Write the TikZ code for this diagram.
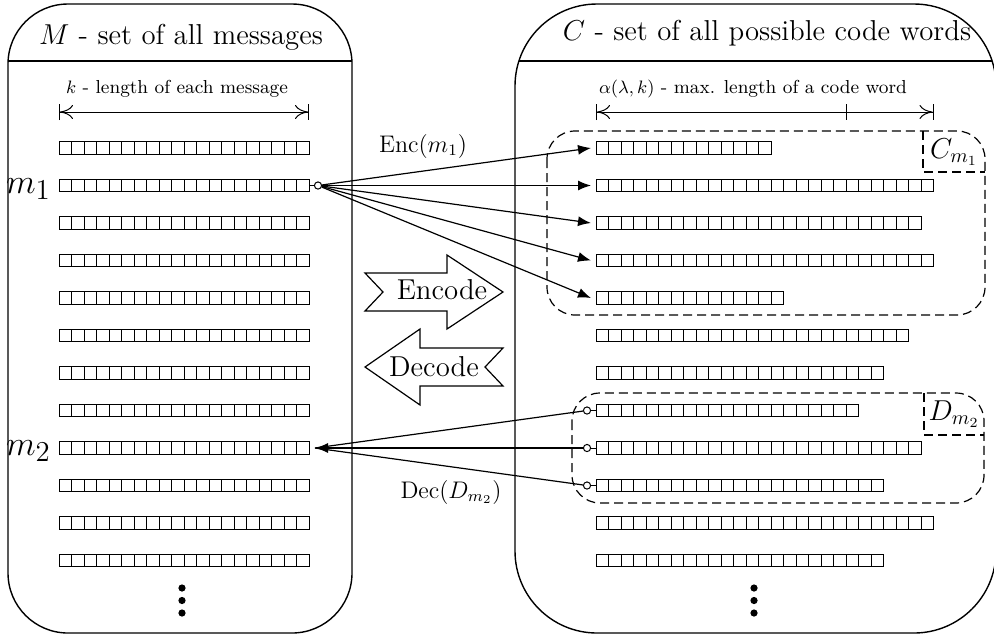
\documentclass[tikz,border=0pt]{standalone}
\usetikzlibrary{arrows.meta}

\begin{document}
\begin{tikzpicture}[x=0.5pt,y=-0.5pt,line width=0.6pt,
	cell/.style={line width=0.5pt},
	setbox/.style={line width=0.7pt},
	group/.style={dash pattern=on 4.5pt off 2.5pt, line width=0.6pt, rounded corners=14pt},
	port/.style={circle, draw, fill=white, inner sep=0pt, minimum size=3.6pt, line width=0.5pt},
	enc/.style={-{Latex[length=6.5pt,width=5pt]}},
	dim/.style={{Bar[width=8pt,sep=0pt]Computer Modern Rightarrow[length=6.5pt,width=7pt,sep=0pt]}-{Computer Modern Rightarrow[length=6.5pt,width=7pt,sep=0pt]Bar[width=8pt,sep=0pt]}, line width=0.5pt},
	bigarrow/.style={draw, fill=white, line width=0.6pt}]
	
	\useasboundingbox (0,0) rectangle (994,634);
	
	% Sets
	\draw[setbox, rounded corners=30pt] (8,4) rectangle (352,633);
	\draw[setbox, rounded corners=41pt] (515,4) rectangle (996,633);
	\draw[setbox] (8,61) -- (352,61);
	\draw[setbox] (519,61) -- (992,61);
	
	% Titles
	\node[font=\Large, anchor=base] (Mtitle) at (181,44) {$M$ - set of all messages};
	\node[font=\Large, anchor=base] (Ctitle) at (767,40) {$C$ - set of all possible code words};
	
	% Lengths
	\draw[dim] (59,112) -- (309,112);
	\draw[dim] (596,112) -- (933.5,112);
	\draw[line width=0.5pt] (846,104) -- (846,120);
	\node[font=\fontsize{9.4}{11}\selectfont, anchor=base] (klabel) at (177,93) {$k$ - length of each message};
	\node[font=\fontsize{9.4}{11}\selectfont, anchor=base] (alabel) at (753,93) {$\alpha(\lambda,k)$ - max. length of a code word};
	
	% Messages (k = 20 cells each)
	\foreach \i in {0,...,11}{
		\foreach \j in {0,...,19}
			\draw[cell] ({59+12.5*\j},{141.75+37.5*\i}) rectangle ++(12.5,12.5);
	}
	
	% Code words
	\foreach \n [count=\i from 0] in {14,27,26,27,15,25,23,21,26,23,27,23}{
		\foreach \j in {1,...,\n}
			\draw[cell] ({583.5+12.5*\j},{141.75+37.5*\i}) rectangle ++(12.5,12.5);
		\coordinate (c\i) at (591,{148+37.5*\i});
		\coordinate (r\i) at (596,{148+37.5*\i});
	}
	
	% Dots
	\foreach \y in {588,600.5,613}{
		\fill (182,\y) circle (1.8pt);
		\fill (754,\y) circle (1.8pt);
	}
	
	% m_1 and m_2
	\node[font=\fontsize{19}{22}\selectfont, anchor=base east] (m1lab) at (58,193) {$m_1$};
	\node[font=\fontsize{19}{22}\selectfont, anchor=base east] (m2lab) at (58,455) {$m_2$};
	\coordinate (m1end) at (309,185.5);
	\node[port] (m1o) at (318,185.5) {};
	\draw[line width=0.5pt] (m1end) -- (m1o);
	\coordinate (m2in) at (315,448);
	
	% Encoding of m_1
	\foreach \i in {0,...,4}
		\draw[enc] (m1o) -- (c\i);
	\node[font=\large, anchor=base] (enclab) at (423,152) {Enc$(m_1)$};
	
	% Decoding set of m_2
	\foreach \i in {7,8,9}{
		\node[port] (d\i) at (587,{148+37.5*\i}) {};
		\draw[line width=0.5pt] (d\i) -- (r\i);
	}
	\draw (d7) -- (m2in);
	\draw (d9) -- (m2in);
	\draw[enc] (d8) -- (m2in);
	\node[font=\large, anchor=base] (declab) at (451,498) {Dec$(D_{m_2})$};
	
	% Groups
	\draw[group] (547,131) rectangle (985,315);
	\draw[group, sharp corners] (923,131) |- (985,172);
	\node[font=\Large] (cm1) at (954,152) {$C_{m_1}$};
	\draw[group] (572,393) rectangle (984,503);
	\draw[group, sharp corners] (924,393) |- (984,435);
	\node[font=\Large] (dm2) at (954,414) {$D_{m_2}$};
	
	% Encode / Decode
	\draw[bigarrow] (365,273) -- (447,273) -- (447,255) -- (503,292) -- (447,329) -- (447,311) -- (365,311) -- (383,292) -- cycle;
	\node[font=\Large] (encode) at (442,290) {Encode};
	\draw[bigarrow] (365,367) -- (420,329) -- (420,348) -- (503,348) -- (485,367) -- (503,386) -- (420,386) -- (420,405) -- cycle;
	\node[font=\Large] (decode) at (434,367) {Decode};
	
\end{tikzpicture}
\end{document}
